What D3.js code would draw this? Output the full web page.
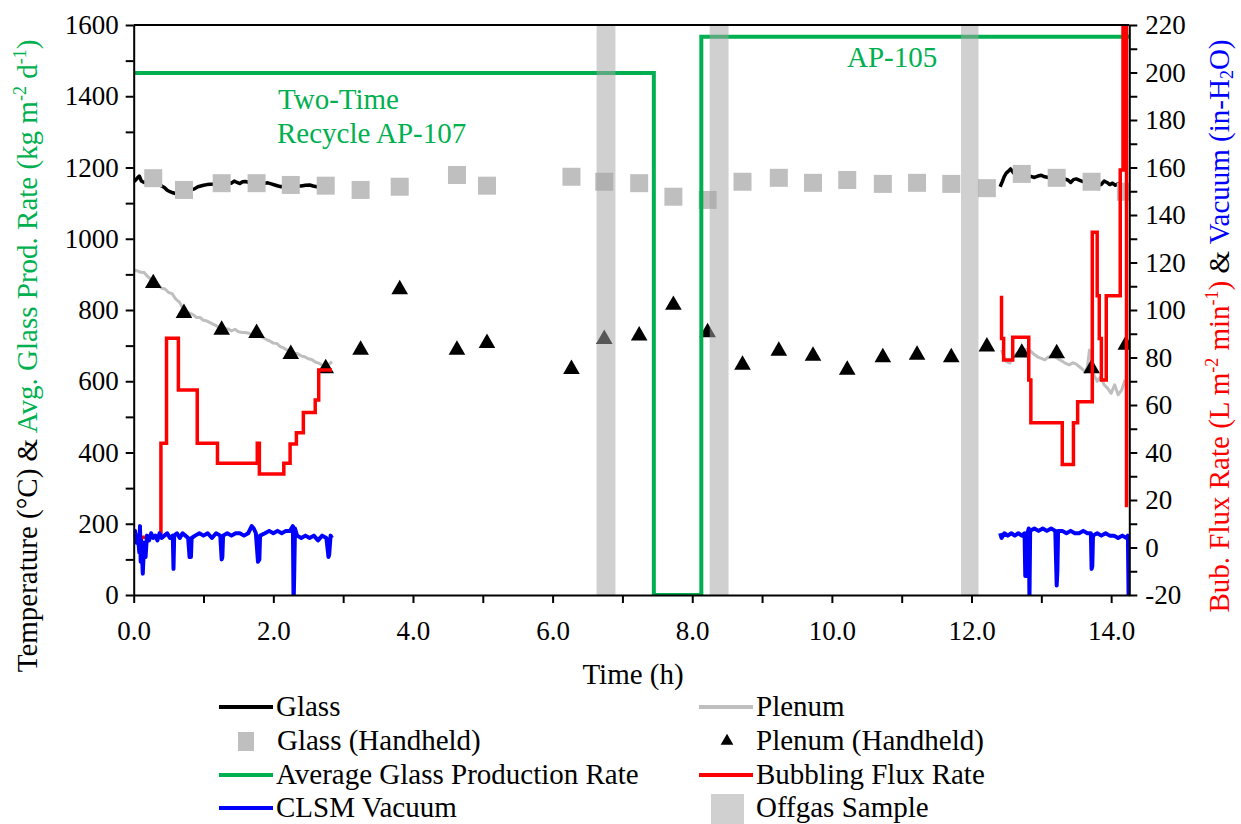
<!DOCTYPE html>
<html><head><meta charset="utf-8">
<script src="https://cdn.jsdelivr.net/npm/d3@7/dist/d3.min.js"></script>
<style>body{margin:0;background:#fff}svg text{font-family:"Liberation Serif","Times New Roman",Times,"DejaVu Serif",serif !important}</style>
</head><body>
<svg id="chart" width="1241" height="824" font-family="Liberation Serif, Times New Roman, serif"></svg>
<script>
// ---------- data ----------
const leftTicks = d3.range(0, 1601, 100);
const leftLabels = [0, 200, 400, 600, 800, 1000, 1200, 1400, 1600];
const rightTicks = d3.range(-20, 221, 10);
const rightLabels = [-20, 0, 20, 40, 60, 80, 100, 120, 140, 160, 180, 200, 220];
const timeTicks = d3.range(0, 15, 1);
const timeLabels = [0, 2, 4, 6, 8, 10, 12, 14];

const handheldTimes = [0.28,0.72,1.26,1.76,2.25,2.75,3.25,3.81,4.63,5.06,6.27,6.74,7.24,7.73,8.22,8.72,9.24,9.73,10.22,10.73,11.22,11.71,12.22,12.72,13.22,13.72,14.21];
const glassHandheld = [1170,1137,1156,1156,1151,1149,1137,1146,1179,1149,1174,1160,1156,1118,1109,1160,1171,1157,1165,1154,1157,1154,1142,1182,1171,1160,1132];
const plenumHandheld = [875,791,744,735,676,636,688,858,688,707,634,718,728,814,737,646,685,671,632,667,674,667,697,680,678,636,702];

const glassLeft = [[0.00,1160],[0.03,1165],[0.06,1172],[0.08,1176],[0.11,1162],[0.15,1158],[0.20,1160],[0.25,1163],[0.30,1165],[0.35,1155],[0.40,1148],[0.44,1144],[0.48,1136],[0.52,1132],[0.56,1129],[0.60,1127],[0.64,1131],[0.70,1133],[0.76,1135],[0.82,1137],[0.87,1140],[0.92,1146],[0.96,1148],[1.00,1150],[1.05,1152],[1.10,1153],[1.15,1154],[1.22,1156],[1.30,1155],[1.36,1157],[1.40,1156],[1.44,1162],[1.48,1158],[1.52,1155],[1.56,1160],[1.60,1161],[1.65,1158],[1.72,1160],[1.80,1157],[1.86,1155],[1.92,1157],[1.97,1154],[2.02,1151],[2.07,1148],[2.11,1146],[2.18,1150],[2.25,1152],[2.32,1149],[2.40,1148],[2.46,1150],[2.52,1151],[2.57,1148],[2.62,1146],[2.67,1148],[2.72,1150]];
const glassRight = [[12.41,1146],[12.44,1160],[12.47,1175],[12.50,1185],[12.53,1190],[12.56,1196],[12.60,1185],[12.65,1178],[12.72,1176],[12.80,1173],[12.85,1175],[12.90,1172],[12.95,1176],[13.00,1178],[13.05,1174],[13.10,1172],[13.15,1170],[13.22,1168],[13.28,1166],[13.33,1168],[13.38,1165],[13.42,1158],[13.46,1166],[13.50,1168],[13.55,1164],[13.60,1160],[13.66,1158],[13.72,1157],[13.78,1156],[13.82,1150],[13.86,1153],[13.90,1162],[13.94,1158],[13.98,1152],[14.02,1156],[14.06,1150],[14.10,1154],[14.15,1150]];

const plenumLeft = [[0.00,912],[0.05,910],[0.10,906],[0.15,905],[0.20,894],[0.25,886],[0.30,877],[0.35,871],[0.40,861],[0.45,859],[0.50,849],[0.55,846],[0.60,831],[0.65,823],[0.70,807],[0.75,796],[0.80,791],[0.85,787],[0.90,779],[0.95,779],[1.00,771],[1.05,769],[1.10,764],[1.15,759],[1.20,754],[1.25,753],[1.30,747],[1.35,747],[1.40,741],[1.45,746],[1.50,739],[1.55,737],[1.60,737],[1.65,735],[1.70,729],[1.75,736],[1.80,727],[1.85,723],[1.90,717],[1.95,713],[2.00,707],[2.05,706],[2.10,697],[2.15,693],[2.20,687],[2.25,685],[2.30,679],[2.35,677],[2.40,671],[2.45,669],[2.50,663],[2.55,661],[2.60,654],[2.65,651],[2.70,645],[2.75,643],[2.80,648],[2.84,655]];
const plenumRight = [[12.43,688],[12.46,670],[12.50,655],[12.55,651],[12.60,668],[12.65,678],[12.70,685],[12.75,688],[12.80,690],[12.85,684],[12.90,675],[12.95,668],[13.00,664],[13.05,660],[13.10,668],[13.15,672],[13.20,669],[13.25,662],[13.30,656],[13.35,650],[13.40,646],[13.45,652],[13.50,648],[13.55,640],[13.60,632],[13.63,625],[13.66,640],[13.69,688],[13.72,660],[13.75,618],[13.80,600],[13.85,612],[13.90,590],[13.95,580],[14.00,566],[14.05,590],[14.10,562],[14.15,575],[14.20,604]];

const productionRate = [[0,1465],[7.45,1465],[7.45,0],[8.13,0],[8.13,1567],[14.26,1567]];

const bubblingLeft = [[0.00,4.3],[0.39,4.3],[0.39,43.9],[0.47,43.9],[0.47,88.1],[0.64,88.1],[0.64,66.3],[0.91,66.3],[0.91,43.9],[1.20,43.9],[1.20,35.5],[1.77,35.5],[1.77,43.9],[1.80,43.9],[1.80,30.9],[2.15,30.9],[2.15,35.5],[2.24,35.5],[2.24,43.6],[2.33,43.6],[2.33,48.3],[2.43,48.3],[2.43,56.8],[2.60,56.8],[2.60,62.1],[2.65,62.1],[2.65,74.7],[2.84,74.7]];
const bubblingRight = [[12.43,106],[12.43,88],[12.46,88],[12.46,79],[12.59,79],[12.59,88.5],[12.82,88.5],[12.82,70.5],[12.85,70.5],[12.85,52.5],[13.30,52.5],[13.30,35],[13.46,35],[13.46,52.5],[13.52,52.5],[13.52,61.4],[13.73,61.4],[13.73,132.7],[13.80,132.7],[13.80,106],[13.83,106],[13.83,88],[13.86,88],[13.86,70.5],[13.93,70.5],[13.93,106],[14.13,106],[14.13,159],[14.17,159],[14.17,230],[14.22,230],[14.22,17]];

const vacuumLeft = [[0.00,4],[0.02,7],[0.04,2],[0.06,5],[0.08,-2],[0.09,9],[0.10,-6],[0.11,3],[0.13,-11],[0.15,2],[0.17,-4],[0.19,5],[0.22,3],[0.25,6],[0.28,4],[0.31,5],[0.34,3],[0.37,6],[0.40,4],[0.44,5],[0.48,6],[0.52,4],[0.56,5],[0.57,-9],[0.58,5],[0.62,6],[0.66,4],[0.70,6],[0.74,5],[0.78,4],[0.80,-4],[0.82,-4],[0.83,4],[0.88,5],[0.94,6],[1.00,5],[1.06,6],[1.12,4],[1.18,6],[1.24,5],[1.26,-5],[1.27,-4],[1.28,5],[1.34,6],[1.40,5],[1.46,6],[1.52,6],[1.58,5],[1.64,6],[1.69,9],[1.72,8],[1.75,6],[1.78,-6],[1.80,-5],[1.81,5],[1.88,6],[1.94,7],[2.00,6],[2.06,7],[2.12,6],[2.18,7],[2.24,7],[2.28,9],[2.29,-25],[2.30,-10],[2.31,8],[2.34,5],[2.40,4],[2.46,5],[2.52,4],[2.58,5],[2.64,3],[2.70,5],[2.76,4],[2.79,-4],[2.80,-3],[2.82,5],[2.84,4]];
const vacuumRight = [[12.41,6],[12.43,4],[12.47,6],[12.52,5],[12.57,6],[12.62,5],[12.67,6],[12.72,5],[12.76,6],[12.77,-12],[12.79,-12],[12.80,6],[12.82,8],[12.83,-22],[12.84,7],[12.90,8],[12.96,7],[13.02,8],[13.08,7],[13.14,8],[13.20,7],[13.22,-16],[13.23,-10],[13.24,7],[13.30,7],[13.36,6],[13.42,7],[13.48,6],[13.54,6],[13.60,7],[13.66,6],[13.71,6],[13.72,-9],[13.73,-8],[13.74,5],[13.80,6],[13.86,5],[13.92,6],[13.98,5],[14.04,5],[14.10,4],[14.16,5],[14.22,4],[14.24,5],[14.25,-22]];

const offgasSamples = [[6.63,6.90],[8.25,8.52],[11.85,12.10]];

// ---------- layout ----------
const FONT = '"Liberation Serif","Times New Roman",Times,serif';
const svg = d3.select("#chart");
const L = 133.7, R = 1129.3, T = 25, B = 595;
const x = d3.scaleLinear().domain([0, 14.26]).range([L, R]);
const yL = d3.scaleLinear().domain([0, 1600]).range([B, T]);
const yR = d3.scaleLinear().domain([-20, 220]).range([B, T]);

const C = {glass:"#000", plenum:"#bfbfbf", green:"#00b050", red:"#ff0000", blue:"#0000ff", band:"#a4a4a4"};

svg.append("defs").append("clipPath").attr("id","clip")
  .append("rect").attr("x",L).attr("y",T).attr("width",R-L).attr("height",B-T);
const plot = svg.append("g").attr("clip-path","url(#clip)");

const lineL = d3.line().x(d=>x(d[0])).y(d=>yL(d[1]));
const lineR = d3.line().x(d=>x(d[0])).y(d=>yR(d[1]));

[glassLeft, glassRight].forEach(s => plot.append("path").attr("d", lineL(s))
  .attr("fill","none").attr("stroke",C.glass).attr("stroke-width",3.5).attr("stroke-linejoin","round"));
[plenumLeft, plenumRight].forEach(s => plot.append("path").attr("d", lineL(s))
  .attr("fill","none").attr("stroke",C.plenum).attr("stroke-width",3).attr("stroke-linejoin","round"));

const sq = 18;
plot.selectAll("rect.gh").data(handheldTimes.map((t,i)=>[t,glassHandheld[i]])).join("rect")
  .attr("x",d=>x(d[0])-sq/2).attr("y",d=>yL(d[1])-sq/2).attr("width",sq).attr("height",sq).attr("fill",C.plenum);

const tri = d3.symbol().type(d3.symbolTriangle).size(120);
plot.selectAll("path.ph").data(handheldTimes.map((t,i)=>[t,plenumHandheld[i]])).join("path")
  .attr("d",tri).attr("transform",d=>`translate(${x(d[0])},${yL(d[1])})`).attr("fill","#000");

plot.append("path").attr("d", lineL(productionRate)).attr("fill","none")
  .attr("stroke",C.green).attr("stroke-width",4);

[bubblingLeft, bubblingRight].forEach(s => plot.append("path").attr("d", lineR(s))
  .attr("fill","none").attr("stroke",C.red).attr("stroke-width",3.5));
[vacuumLeft, vacuumRight].forEach(s => plot.append("path").attr("d", lineR(s))
  .attr("fill","none").attr("stroke",C.blue).attr("stroke-width",4).attr("stroke-linejoin","round"));

plot.selectAll("rect.band").data(offgasSamples).join("rect")
  .attr("x",d=>x(d[0])).attr("width",d=>x(d[1])-x(d[0])).attr("y",T).attr("height",B-T)
  .attr("fill",C.band).attr("fill-opacity",0.52);

// ---------- axes ----------
const fmt1 = d3.format(".1f");
const axL = d3.axisLeft(yL).tickValues(leftTicks).tickSize(8).tickSizeOuter(0)
  .tickFormat(d => leftLabels.includes(d) ? d : "");
const axR = d3.axisRight(yR).tickValues(rightTicks).tickSize(8).tickSizeOuter(0)
  .tickFormat(d => rightLabels.includes(d) ? d : "");
const axB = d3.axisBottom(x).tickValues(timeTicks).tickSize(8).tickSizeOuter(0)
  .tickFormat(d => timeLabels.includes(d) ? fmt1(d) : "");

function style(g){
  g.attr("font-family", FONT);
  g.select(".domain").attr("stroke","#000").attr("stroke-width",2);
  g.selectAll(".tick line").attr("stroke","#000").attr("stroke-width",2);
  g.selectAll(".tick text").attr("fill","#000").attr("font-size",27).attr("font-family",FONT);
}
svg.append("g").attr("transform",`translate(${L},0)`).call(axL).call(style)
  .selectAll(".tick text").attr("x",-15);
svg.append("g").attr("transform",`translate(${R},0)`).call(axR).call(style)
  .selectAll(".tick text").attr("x",16);
svg.append("g").attr("transform",`translate(0,${B})`).call(axB).call(style)
  .selectAll(".tick text").attr("y",26);
svg.append("line").attr("x1",L).attr("x2",R).attr("y1",T).attr("y2",T).attr("stroke","#000").attr("stroke-width",2);

// ---------- titles ----------
const fs = 29;
const txt = (sel) => sel.attr("font-family", FONT);
svg.append("text").call(txt).attr("x",633).attr("y",684).attr("text-anchor","middle").attr("font-size",fs).text("Time (h)");

const lt = svg.append("text").call(txt).attr("transform","translate(37,356) rotate(-90)").attr("text-anchor","middle").attr("font-size",fs);
lt.append("tspan").attr("fill","#000").text("Temperature (°C) & ");
lt.append("tspan").attr("fill",C.green).text("Avg. Glass Prod. Rate (kg m");
lt.append("tspan").attr("fill",C.green).attr("font-size",18).attr("dy",-11).text("-2");
lt.append("tspan").attr("fill",C.green).attr("dy",11).text(" d");
lt.append("tspan").attr("fill",C.green).attr("font-size",18).attr("dy",-11).text("-1");
lt.append("tspan").attr("fill",C.green).attr("dy",11).text(")");

const rt = svg.append("text").call(txt).attr("transform","translate(1229,326) rotate(-90)").attr("text-anchor","middle").attr("font-size",fs);
rt.append("tspan").attr("fill",C.red).text("Bub. Flux Rate (L m");
rt.append("tspan").attr("fill",C.red).attr("font-size",18).attr("dy",-11).text("-2");
rt.append("tspan").attr("fill",C.red).attr("dy",11).text(" min");
rt.append("tspan").attr("fill",C.red).attr("font-size",18).attr("dy",-11).text("-1");
rt.append("tspan").attr("fill",C.red).attr("dy",11).text(")");
rt.append("tspan").attr("fill","#000").text(" & ");
rt.append("tspan").attr("fill",C.blue).text("Vacuum (in-H");
rt.append("tspan").attr("fill",C.blue).attr("font-size",18).attr("dy",4).text("2");
rt.append("tspan").attr("fill",C.blue).attr("dy",-4).text("O)");

// annotations
svg.append("text").call(txt).attr("x",278).attr("y",109).attr("fill",C.green).attr("font-size",fs).text("Two-Time");
svg.append("text").call(txt).attr("x",277).attr("y",143).attr("fill",C.green).attr("font-size",fs).text("Recycle AP-107");
svg.append("text").call(txt).attr("x",847).attr("y",67).attr("fill",C.green).attr("font-size",fs).text("AP-105");

// ---------- legend ----------
const rows = [707, 741, 775, 808];
const leg = svg.append("g").attr("font-size",fs).attr("font-family",FONT);
function legLine(x0, y, color, label){
  leg.append("line").attr("x1",x0).attr("x2",x0+54).attr("y1",y).attr("y2",y).attr("stroke",color).attr("stroke-width",4);
  leg.append("text").call(txt).attr("x",x0+57).attr("y",y+9).text(label);
}
legLine(219, rows[0], C.glass, "Glass");
legLine(699, rows[0], C.plenum, "Plenum");
legLine(219, rows[2], C.green, "Average Glass Production Rate");
legLine(699, rows[2], C.red, "Bubbling Flux Rate");
legLine(219, rows[3], C.blue, "CLSM Vacuum");
leg.append("rect").attr("x",238).attr("y",rows[1]-9).attr("width",16).attr("height",19).attr("fill",C.plenum);
leg.append("text").call(txt).attr("x",277).attr("y",rows[1]+9).text("Glass (Handheld)");
leg.append("path").attr("d",d3.symbol().type(d3.symbolTriangle).size(70)).attr("transform",`translate(727,${rows[1]})`).attr("fill","#000");
leg.append("text").call(txt).attr("x",756).attr("y",rows[1]+9).text("Plenum (Handheld)");
leg.append("rect").attr("x",711).attr("y",rows[3]-14).attr("width",33).attr("height",30).attr("fill",C.band).attr("fill-opacity",0.52);
leg.append("text").call(txt).attr("x",756).attr("y",rows[3]+9).text("Offgas Sample");
</script>
</body></html>
